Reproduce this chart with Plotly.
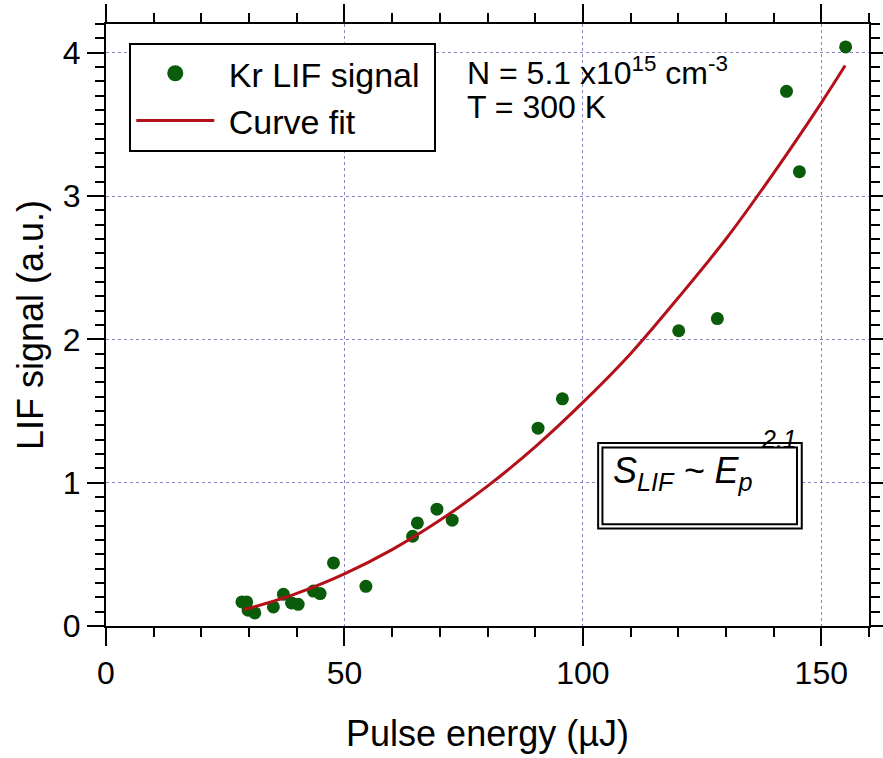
import plotly.graph_objects as go

energy = [28.5, 29.5, 29.8, 31.2, 35.1, 37.2, 38.9, 40.3, 43.5, 44.9, 47.7, 54.5,
          64.3, 65.3, 69.4, 72.6, 90.6, 95.7, 120.1, 128.2, 142.7, 145.4, 155.1]
signal = [0.168, 0.168, 0.110, 0.091, 0.133, 0.221, 0.161, 0.151, 0.244, 0.226, 0.44, 0.277,
          0.626, 0.719, 0.815, 0.738, 1.38, 1.585, 2.06, 2.145, 3.73, 3.17, 4.04]

# Curve fit
fit_energy = [29, 35, 40, 50, 60, 70, 80, 90, 100, 110, 120, 130, 140, 150, 155]
fit_signal = [0.115, 0.172, 0.227, 0.364, 0.533, 0.737, 0.976, 1.25, 1.56, 1.90, 2.29, 2.70, 3.16, 3.65, 3.91]

x_ticks = [0, 50, 100, 150]
y_ticks = [0, 1, 2, 3, 4]

FONT = "Liberation Sans, Arial, sans-serif"
GREEN = "#0a5c0a"
RED = "#b3101a"
GRID = "rgba(120,120,190,0.9)"
NB = "\u00a0"

fig = go.Figure()
fig.add_trace(go.Scatter(x=energy, y=signal, mode="markers", name="Kr LIF signal",
                         marker=dict(color=GREEN, size=13), showlegend=False))
# legend entry for the measured points (bigger legend symbol)
fig.add_trace(go.Scatter(x=[None], y=[None], mode="markers", name=NB + "Kr LIF signal" + NB,
                         marker=dict(color=GREEN, size=24)))
fig.add_trace(go.Scatter(x=fit_energy, y=fit_signal, mode="lines", name=NB + "Curve fit",
                         line=dict(color=RED, width=3, shape="spline")))

axis_common = dict(
    showline=True, linecolor="black", linewidth=2, mirror="allticks",
    ticks="outside", tickcolor="black", tickwidth=2, automargin=False,
    showgrid=True, gridcolor=GRID, griddash="dot", gridwidth=1,
    zeroline=False, tickfont=dict(family=FONT, size=32, color="black"),
)

fig.update_xaxes(
    range=[0, 160], tickvals=x_ticks, ticklen=18,
    minor=dict(dtick=10, ticklen=9, tickwidth=2, tickcolor="black", ticks="outside", showgrid=False),
    title=dict(text="Pulse energy (µJ)", font=dict(family=FONT, size=36, color="black"), standoff=30),
    **axis_common,
)
fig.update_yaxes(
    range=[0, 4.2], tickvals=y_ticks, ticklen=17,
    minor=dict(dtick=0.1, ticklen=9, tickwidth=2, tickcolor="black", ticks="outside", showgrid=False),
    title=dict(text="LIF signal (a.u.)", font=dict(family=FONT, size=36, color="black"), standoff=8),
    **axis_common,
)

# double frame around the power law text
fig.add_shape(type="rect", x0=103.2, x1=145.9, y0=0.680, y1=1.277,
              line=dict(color="black", width=2), fillcolor="white", layer="between")
fig.add_shape(type="rect", x0=104.1, x1=144.9, y0=0.710, y1=1.245,
              line=dict(color="black", width=2), layer="between")

fig.add_annotation(x=105.9, y=1.065, xref="x", yref="y", showarrow=False,
                   xanchor="left", yanchor="middle",
                   text="<i>S<sub>LIF</sub> ~ E<sub>p</sub></i>",
                   font=dict(family=FONT, size=36, color="black"))
fig.add_annotation(x=137.0, y=1.303, xref="x", yref="y", showarrow=False,
                   xanchor="left", yanchor="middle",
                   text="<i>2.1</i>",
                   font=dict(family=FONT, size=25, color="black"))

fig.add_annotation(x=0.471, y=0.922, xref="paper", yref="paper", showarrow=False,
                   xanchor="left", yanchor="middle",
                   text="N = 5.1 x10<sup>15</sup> cm<sup>-3</sup>",
                   font=dict(family=FONT, size=32, color="black"))
fig.add_annotation(x=0.471, y=0.862, xref="paper", yref="paper", showarrow=False,
                   xanchor="left", yanchor="middle",
                   text="T = 300 K",
                   font=dict(family=FONT, size=32, color="black"))

fig.update_layout(
    template="none",
    width=883, height=758,
    margin=dict(l=106, r=14, t=24, b=132, autoexpand=False),
    paper_bgcolor="white", plot_bgcolor="white",
    showlegend=True,
    legend=dict(x=0.0305, y=0.969, xanchor="left", yanchor="top",
                bgcolor="white", bordercolor="black", borderwidth=2,
                font=dict(family=FONT, size=34, color="black"),
                tracegroupgap=0, itemwidth=78),
)

fig.write_html("out.html")
